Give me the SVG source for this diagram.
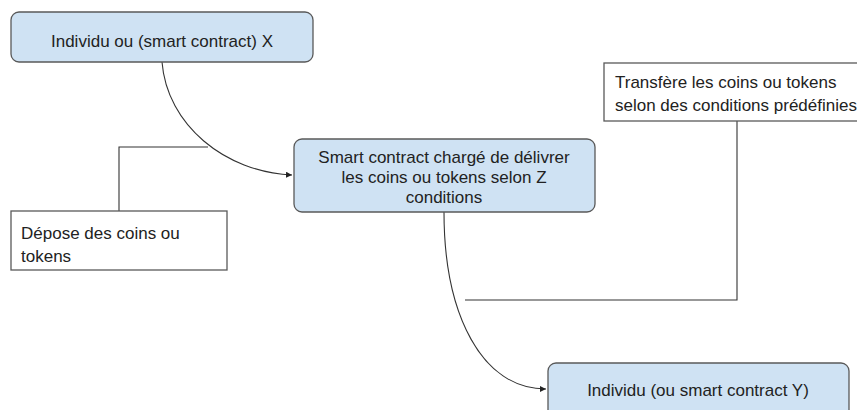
<svg xmlns="http://www.w3.org/2000/svg" width="857" height="410" viewBox="0 0 857 410">
<style>
.node{fill:#cfe2f3;stroke:#595959;stroke-width:1.3}
.note{fill:#ffffff;stroke:#595959;stroke-width:1.3}
.t{font-family:"Liberation Sans",Arial,sans-serif;font-size:17px;fill:#222}
.c{text-anchor:middle}
.ln{fill:none;stroke:#333;stroke-width:1.1}
</style>
<defs>
<marker id="ah" markerWidth="8" markerHeight="8" refX="6" refY="3" orient="auto" markerUnits="userSpaceOnUse">
<path d="M0,0 L6,3 L0,6 Z" fill="#222"/>
</marker>
</defs>
<rect width="857" height="410" fill="#ffffff"/>
<g id="connectors">
<path class="ln" d="M162,62 C167,125 225,172 292,175" marker-end="url(#ah)"/>
<path class="ln" d="M119,211 L119,147 L208,147"/>
<path class="ln" d="M737,121 L737,300 L465,300"/>
<path class="ln" d="M444,212 C444,315 482,389 546,389" marker-end="url(#ah)"/>
</g>
<g id="n1">
<rect class="node" x="11" y="12" width="302" height="50" rx="8"/>
<text class="t c" x="162" y="47">Individu ou (smart contract) X</text>
</g>
<g id="n2">
<rect class="node" x="294" y="139" width="301" height="73" rx="8"/>
<text class="t c" x="444" y="163">Smart contract chargé de délivrer</text>
<text class="t c" x="444" y="183">les coins ou tokens selon Z</text>
<text class="t c" x="444" y="203">conditions</text>
</g>
<g id="n3">
<rect class="note" x="11" y="211" width="216" height="59"/>
<text class="t" x="21" y="239">Dépose des coins ou</text>
<text class="t" x="21" y="262">tokens</text>
</g>
<g id="n4">
<rect class="note" x="604" y="63" width="260" height="58"/>
<text class="t" x="615" y="88">Transfère les coins ou tokens</text>
<text class="t" x="615" y="111">selon des conditions prédéfinies</text>
</g>
<g id="n5">
<rect class="node" x="548" y="363" width="301" height="60" rx="8"/>
<text class="t c" x="698" y="396">Individu (ou smart contract Y)</text>
</g>
</svg>
